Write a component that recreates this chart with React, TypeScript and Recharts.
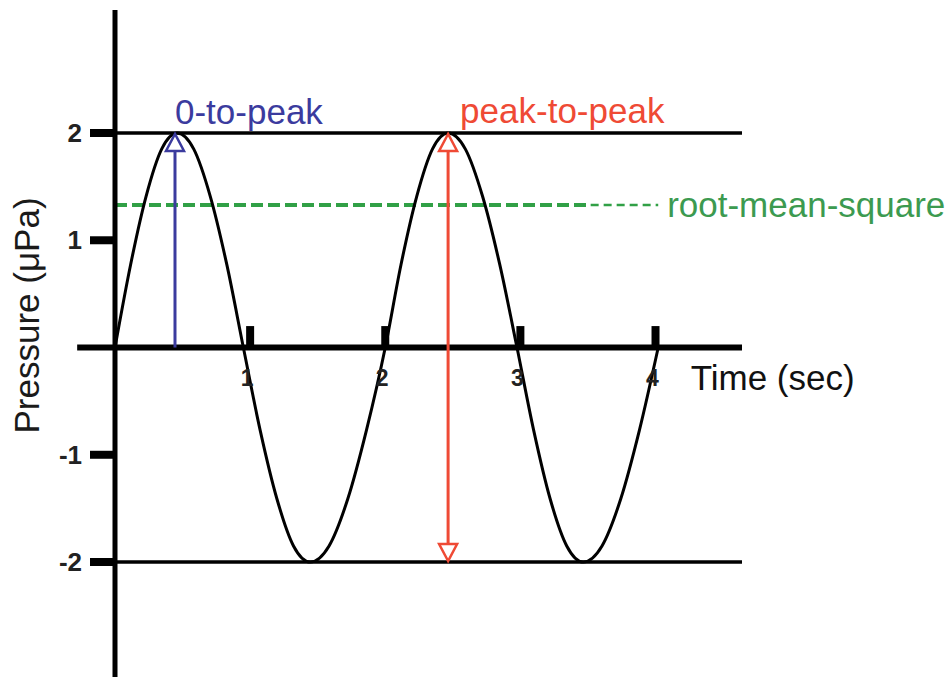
import React from 'react';
import { LineChart, Line, XAxis, YAxis, ReferenceLine, ReferenceDot, Label } from 'recharts';

// Sine-like pressure curve (time in sec, pressure in µPa)
const timeSec = [0, 0.115, 0.23, 0.345, 0.46, 0.583, 0.705, 0.828, 0.95, 1.074, 1.198, 1.321, 1.445, 1.584, 1.723, 1.861, 2.0, 2.116, 2.233, 2.349, 2.465, 2.593, 2.72, 2.848, 2.975, 3.098, 3.22, 3.343, 3.465, 3.604, 3.743, 3.881, 4.02];
const pressure = [0, 0.77, 1.41, 1.85, 2, 1.85, 1.41, 0.77, 0, -0.77, -1.41, -1.85, -2, -1.85, -1.41, -0.77, 0, 0.77, 1.41, 1.85, 2, 1.85, 1.41, 0.77, 0, -0.77, -1.41, -1.85, -2, -1.85, -1.41, -0.77, 0];

const xTicks = [1, 2, 3, 4];
const yTicks = [-2, -1, 1, 2];
const xDomain = [0, 4.64];
const yDomain = [-3.072, 3.147];
const amplitude = 2;
const rmsValue = 1.33;
const rmsThickEnd = 3.52;
const rmsThinEnd = 4.02;
const zeroToPeakTime = 0.444;
const peakToPeakTime = 2.465;
const axisLeftExtent = -0.28;
const tickHeight = 0.2;

const labelZeroToPeak = '0-to-peak';
const labelPeakToPeak = 'peak-to-peak';
const labelRms = 'root-mean-square';
const labelTime = 'Time (sec)';
const labelPressure = 'Pressure (μPa)';

const data = timeSec.map((t, i) => ({ t, p: pressure[i] }));

const FONT = '"Liberation Sans", Arial, Helvetica, sans-serif';
const BLUE = '#3b3b9e';
const RED = '#ef4a35';
const GREEN = '#31a046';
const GREEN_TEXT = '#3c9a50';

const textAt = (text: string, color: string, dx: number, dy: number, size = 35, anchor = 'start', weight = 'normal') =>
  (props: any) => {
    const vb = props.viewBox || {};
    return (
      <text x={vb.x + dx} y={vb.y + dy} fill={color} fontSize={size} fontFamily={FONT} textAnchor={anchor} fontWeight={weight}>
        {text}
      </text>
    );
  };

const arrowShape = (color: string, both: boolean) => (props: any) => {
  const { x1, y1, x2, y2 } = props;
  const x = x1;
  const top = Math.min(y1, y2);
  const bottom = Math.max(y1, y2);
  const h = 18;
  const w = 9;
  return (
    <g>
      <line x1={x} y1={top + h} x2={x2} y2={both ? bottom - h : bottom} stroke={color} strokeWidth={3} />
      <polygon points={`${x},${top + 1} ${x - w},${top + h} ${x + w},${top + h}`} fill="#fff" stroke={color} strokeWidth={2.5} />
      {both && (
        <polygon points={`${x},${bottom - 1} ${x - w},${bottom - h} ${x + w},${bottom - h}`} fill="#fff" stroke={color} strokeWidth={2.5} />
      )}
    </g>
  );
};

const pressureLabel = (props: any) => {
  const vb = props.viewBox || {};
  const x = vb.x + 39;
  const y = vb.y + vb.height / 2 - 28;
  return (
    <text x={x} y={y} transform={`rotate(-90, ${x}, ${y})`} textAnchor="middle" fontSize={35} fontFamily={FONT} fill="#1a1a1a">
      {labelPressure}
    </text>
  );
};

export default function App() {
  return (
    <div style={{ position: 'absolute', left: 0, top: 0, background: '#fff' }}>
      <LineChart width={952} height={678} data={data} margin={{ top: 10, right: 210, bottom: 1, left: 0 }}>
        <XAxis dataKey="t" type="number" domain={xDomain} hide allowDataOverflow />
        <YAxis
          type="number"
          domain={yDomain}
          ticks={yTicks}
          width={115}
          allowDataOverflow
          axisLine={{ stroke: '#000', strokeWidth: 5 }}
          tickLine={{ stroke: '#000', strokeWidth: 8 }}
          tickSize={25}
          tickMargin={8}
          tick={{ fill: '#222', fontSize: 26, fontWeight: 'bold', fontFamily: FONT }}
        >
          <Label content={pressureLabel} />
        </YAxis>

        {/* amplitude lines */}
        <ReferenceLine y={amplitude} stroke="#000" strokeWidth={3.5} />
        <ReferenceLine y={-amplitude} stroke="#000" strokeWidth={3.5} />

        {/* rms dashed line */}
        <ReferenceLine segment={[{ x: 0, y: rmsValue }, { x: rmsThickEnd, y: rmsValue }]} stroke={GREEN} strokeWidth={4} strokeDasharray="12 5" />
        <ReferenceLine segment={[{ x: rmsThickEnd, y: rmsValue }, { x: rmsThinEnd, y: rmsValue }]} stroke={GREEN} strokeWidth={2.5} strokeDasharray="8 5" />

        <Line dataKey="p" type="monotone" stroke="#000" strokeWidth={3} dot={false} activeDot={false} isAnimationActive={false} />

        {/* time axis at zero */}
        <ReferenceLine
          segment={[{ x: axisLeftExtent, y: 0 }, { x: xDomain[1], y: 0 }]}
          stroke="#000"
          strokeWidth={6}
          ifOverflow="visible"
        />
        {xTicks.map((t) => (
          <ReferenceLine key={`tk${t}`} segment={[{ x: t, y: 0 }, { x: t, y: tickHeight }]} stroke="#000" strokeWidth={8} />
        ))}
        {xTicks.map((t) => (
          <ReferenceDot key={`tl${t}`} x={t} y={0} r={0} fill="none" stroke="none" label={textAt(String(t), '#222', -3, 38, 23, 'middle', 'bold')} />
        ))}

        {/* arrows */}
        <ReferenceLine segment={[{ x: zeroToPeakTime, y: 0 }, { x: zeroToPeakTime, y: amplitude }]} stroke={BLUE} shape={arrowShape(BLUE, false)} />
        <ReferenceLine segment={[{ x: peakToPeakTime, y: -amplitude }, { x: peakToPeakTime, y: amplitude }]} stroke={RED} shape={arrowShape(RED, true)} />

        {/* annotations */}
        <ReferenceDot x={zeroToPeakTime} y={amplitude} r={0} fill="none" stroke="none" label={textAt(labelZeroToPeak, BLUE, 0, -9)} />
        <ReferenceDot x={2.554} y={amplitude} r={0} fill="none" stroke="none" label={textAt(labelPeakToPeak, RED, 0, -10)} />
        <ReferenceDot x={4.086} y={rmsValue} r={0} fill="none" stroke="none" label={textAt(labelRms, GREEN_TEXT, 0, 12)} />
        <ReferenceDot x={4.26} y={0} r={0} fill="none" stroke="none" label={textAt(labelTime, '#111', 0, 42)} />
      </LineChart>
    </div>
  );
}
